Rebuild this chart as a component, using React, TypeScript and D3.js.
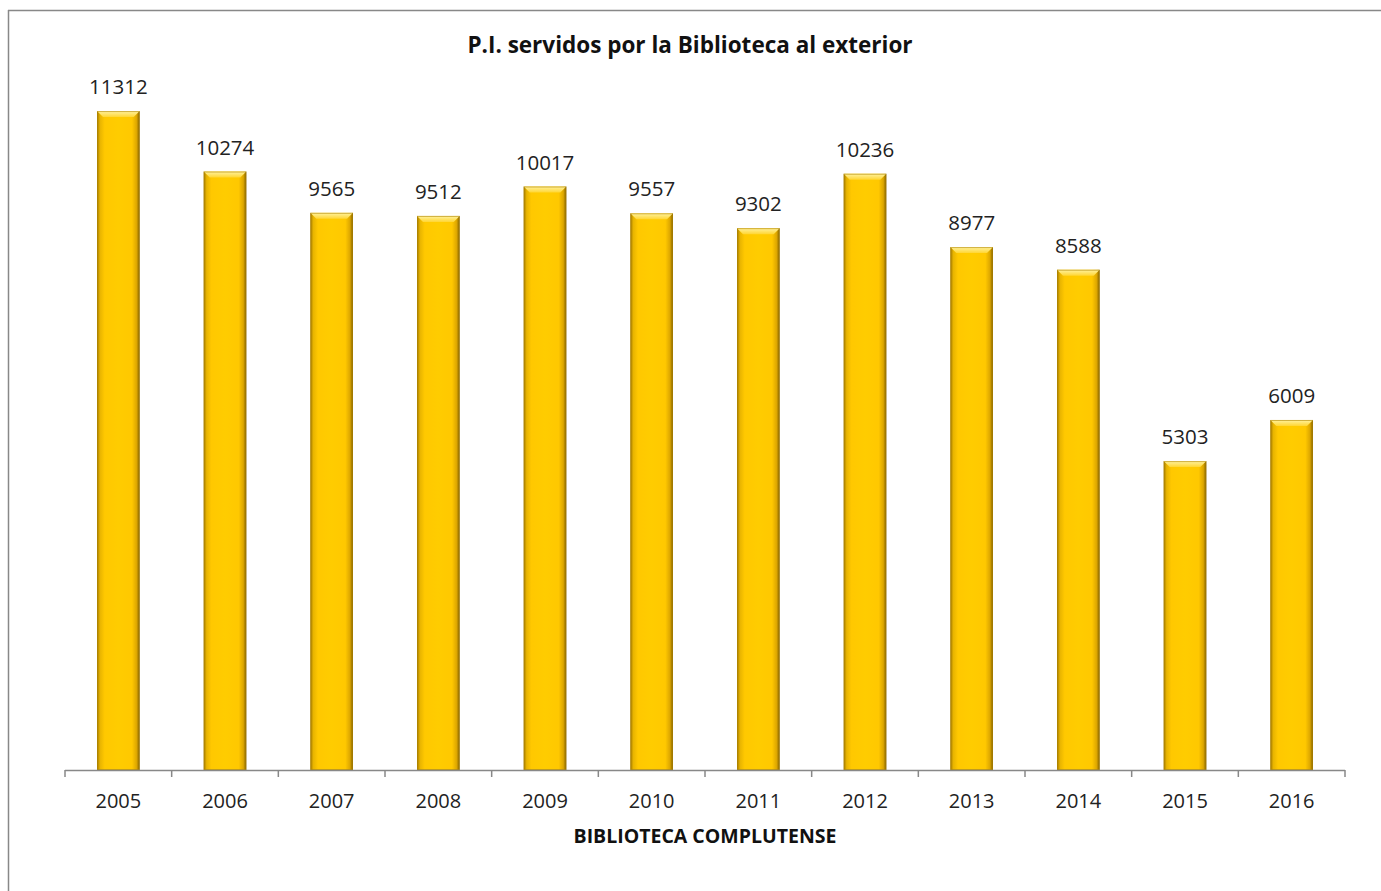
import React from "react";
import * as d3 from "d3";

const years = ["2005","2006","2007","2008","2009","2010","2011","2012","2013","2014","2015","2016"];
const values = [11312,10274,9565,9512,10017,9557,9302,10236,8977,8588,5303,6009];
const chartTitle = "P.I. servidos por la Biblioteca al exterior";
const axisTitle = "BIBLIOTECA COMPLUTENSE";

export default function App() {
  const W = 1381, H = 891;
  const left = 65, right = 1345, baseY = 770;
  const x = d3.scaleBand<string>().domain(years).range([left, right]).paddingInner(0.6).paddingOuter(0.3);
  const y = d3.scaleLinear().domain([0, 12000]).range([baseY, baseY - 699]);
  const step = (right - left) / years.length;
  const font = "'Open Sans', 'Noto Sans', sans-serif";
  return (
    <svg width={W} height={H} style={{ position: "absolute", left: 0, top: 0, background: "#fff" }}>
      <defs>
        <linearGradient id="barG" x1="0" x2="1" y1="0" y2="0">
          <stop offset="0%" stopColor="#a07800" />
          <stop offset="7%" stopColor="#e8b400" />
          <stop offset="18%" stopColor="#ffc800" />
          <stop offset="50%" stopColor="#ffcc00" />
          <stop offset="82%" stopColor="#ffc800" />
          <stop offset="93%" stopColor="#dca600" />
          <stop offset="100%" stopColor="#7d5e00" />
        </linearGradient>
        <linearGradient id="topG" x1="0" x2="0" y1="0" y2="1">
          <stop offset="0%" stopColor="#fff2a0" />
          <stop offset="100%" stopColor="#ffd633" />
        </linearGradient>
      </defs>
      <line x1={8.5} y1={10} x2={8.5} y2={H} stroke="#888" strokeWidth={1.5} />
      <line x1={8} y1={10.5} x2={W} y2={10.5} stroke="#888" strokeWidth={1.5} />
      <text x={690} y={53} textAnchor="middle" fontFamily={font} fontWeight="bold" fontSize={22.5} fill="#111">{chartTitle}</text>
      {years.map((yr, i) => {
        const bx = x(yr)!;
        const bw = x.bandwidth();
        const top = y(values[i]);
        const bv = 6;
        return (
          <g key={yr}>
            <rect x={bx} y={top} width={bw} height={baseY - top} fill="url(#barG)" />
            <polygon points={`${bx},${top} ${bx + bw},${top} ${bx + bw - bv},${top + bv} ${bx + bv},${top + bv}`} fill="url(#topG)" />
            <rect x={bx + 0.5} y={top + 0.5} width={bw - 1} height={baseY - top - 1} fill="none" stroke="#b08600" strokeWidth={1} strokeOpacity={0.6} />
            <text x={bx + bw / 2} y={top - 17} textAnchor="middle" fontFamily={font} fontSize={20.5} fill="#222">{values[i]}</text>
            <text x={bx + bw / 2} y={808} textAnchor="middle" fontFamily={font} fontSize={20} fill="#222">{yr}</text>
          </g>
        );
      })}
      <line x1={left} y1={baseY + 0.5} x2={right} y2={baseY + 0.5} stroke="#888" strokeWidth={1.5} />
      {d3.range(years.length + 1).map((k) => (
        <line key={k} x1={left + k * step} x2={left + k * step} y1={baseY} y2={baseY + 7} stroke="#888" strokeWidth={1.5} />
      ))}
      <text x={705} y={843} textAnchor="middle" fontFamily={font} fontWeight="bold" fontSize={19.5} fill="#111">{axisTitle}</text>
    </svg>
  );
}
